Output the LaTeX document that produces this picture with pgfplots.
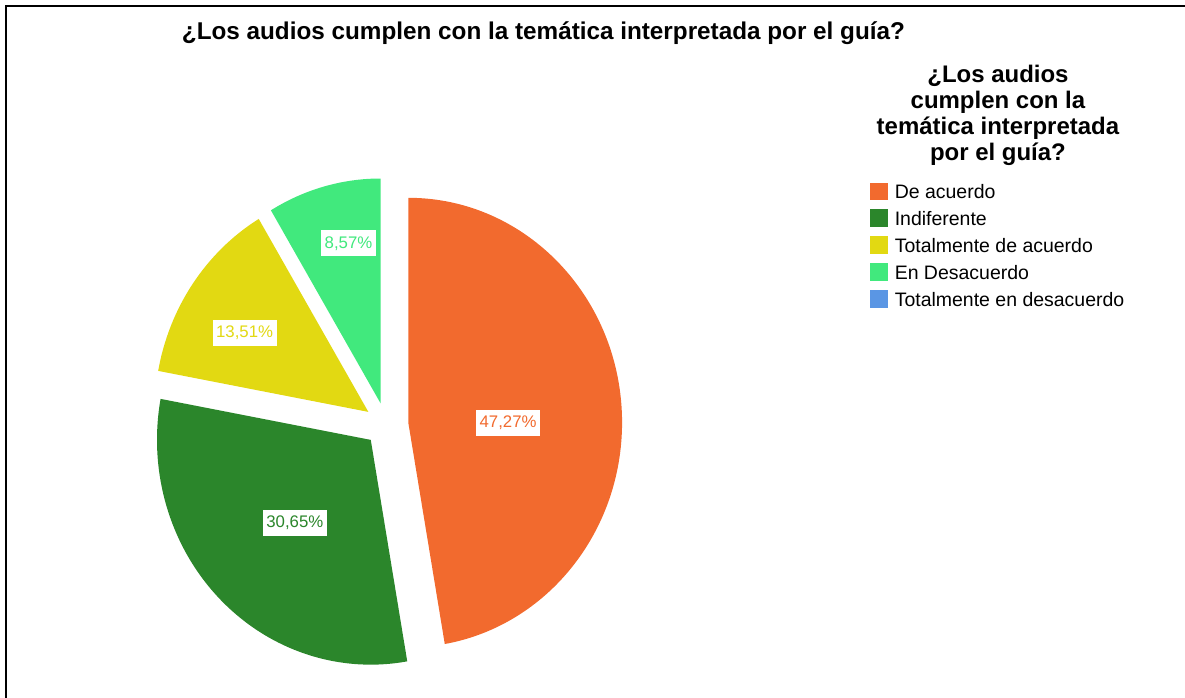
\documentclass[border=0pt]{standalone}
\usepackage{pgfplots}
\pgfplotsset{compat=1.18}
\usepackage{pgfplotstable}
\usepackage{fontspec}
\setmainfont{Liberation Sans}

\definecolor{cDeAcuerdo}{RGB}{242,106,46}
\definecolor{cIndiferente}{RGB}{43,134,43}
\definecolor{cTotAcuerdo}{RGB}{226,217,18}
\definecolor{cEnDes}{RGB}{65,233,125}
\definecolor{cTotDes}{RGB}{90,150,228}

% value (percent), colour, label direction, label distance (fraction of radius)
\pgfplotstableread{
value colour labang labfrac
47.27 cDeAcuerdo 0 0.467
30.65 cIndiferente -133.9 0.512
13.51 cTotAcuerdo 148.8 0.677
8.57 cEnDes 101.9 0.727
0.00 cTotDes 90 0.5
}\piedata

\def\pcx{386.8}%
\def\pcy{272.1}%
\def\prx{214}%
\def\pry{225}%
\def\poff{22}%
\def\pcur{90}%
\pgfplotsforeachungrouped \i in {0,...,3}{%
  \pgfplotstablegetelem{\i}{value}\of\piedata
  \pgfmathsetmacro\pval{\pgfplotsretval}%
  \pgfmathsetmacro\psA{\pcur}%
  \pgfmathsetmacro\psE{\pcur-3.6*\pval}%
  \pgfmathsetmacro\psM{(\psA+\psE)/2}%
  \pgfmathsetmacro\pax{\pcx+\poff*cos(\psM)}%
  \pgfmathsetmacro\pay{\pcy+\poff*sin(\psM)}%
  \pgfmathsetmacro\ppx{\pax+\prx*cos(\psA)}%
  \pgfmathsetmacro\ppy{\pay+\pry*sin(\psA)}%
  \pgfplotstablegetelem{\i}{labang}\of\piedata
  \let\pla\pgfplotsretval
  \pgfplotstablegetelem{\i}{labfrac}\of\piedata
  \let\plf\pgfplotsretval
  \pgfmathsetmacro\plx{\pax+\plf*\prx*cos(\pla)}%
  \pgfmathsetmacro\ply{\pay+\plf*\pry*sin(\pla)}%
  \pgfplotstablegetelem{\i}{colour}\of\piedata
  \expandafter\xdef\csname pcol\i\endcsname{\pgfplotsretval}%
  \expandafter\xdef\csname pval\i\endcsname{\pval}%
  \expandafter\xdef\csname psA\i\endcsname{\psA}%
  \expandafter\xdef\csname psE\i\endcsname{\psE}%
  \expandafter\xdef\csname pax\i\endcsname{\pax}%
  \expandafter\xdef\csname pay\i\endcsname{\pay}%
  \expandafter\xdef\csname ppx\i\endcsname{\ppx}%
  \expandafter\xdef\csname ppy\i\endcsname{\ppy}%
  \expandafter\xdef\csname plx\i\endcsname{\plx}%
  \expandafter\xdef\csname ply\i\endcsname{\ply}%
  \xdef\pcur{\psE}%
}%

\begin{document}
\begin{tikzpicture}
\begin{axis}[
  x=1pt, y=1pt,
  xmin=0, xmax=1185, ymin=0, ymax=697,
  hide axis, clip=false,
  legend image code/.code={\fill[#1, draw=none] (0pt,-6pt) rectangle (17.5pt,11.5pt);},
  legend cell align=left,
  legend style={
    at={(axis cs:871,514.5)}, anchor=north west,
    draw=none, fill=none, inner sep=0pt,
    font=\fontsize{19.5}{23}\selectfont,
    nodes={inner sep=0pt, text height=14pt, text depth=4pt},
    row sep=6.5pt, column sep=7pt,
  },
]
\path (axis cs:0,0) rectangle (axis cs:1185,697);
% frame
\draw[line width=2.5pt, line cap=rect] (axis cs:6,0) -- (axis cs:6,691) -- (axis cs:1185,691);
% slices
\pgfplotsinvokeforeach{0,...,3}{%
  \fill[fill=\csname pcol#1\endcsname]
    (axis cs:\csname pax#1\endcsname,\csname pay#1\endcsname)
    -- (axis cs:\csname ppx#1\endcsname,\csname ppy#1\endcsname)
    arc[start angle=\csname psA#1\endcsname, end angle=\csname psE#1\endcsname,
        x radius=\prx pt, y radius=\pry pt] -- cycle;
}
\pgfplotsinvokeforeach{0,...,3}{%
  \node[fill=white, text=\csname pcol#1\endcsname,
        font=\fontsize{16.8}{19}\selectfont,
        inner xsep=3.5pt, inner ysep=0pt, minimum height=26pt]
    at (axis cs:\csname plx#1\endcsname,\csname ply#1\endcsname)
    {\pgfmathprintnumber[fixed,precision=2,fixed zerofill,use comma,assume math mode=true]{\csname pval#1\endcsname}\%};
}
% titles
\node[anchor=base, inner sep=0pt, font=\bfseries\fontsize{24.3}{28}\selectfont]
  at (axis cs:544,657) {¿Los audios cumplen con la temática interpretada por el guía?};
\node[anchor=north, inner sep=0pt, align=center, font=\bfseries\fontsize{24}{25.7}\selectfont]
  at (axis cs:999,631.5) {¿Los audios\\cumplen con la\\temática interpretada\\por el guía?};
\addlegendimage{fill=cDeAcuerdo}
\addlegendentry{De acuerdo}
\addlegendimage{fill=cIndiferente}
\addlegendentry{Indiferente}
\addlegendimage{fill=cTotAcuerdo}
\addlegendentry{Totalmente de acuerdo}
\addlegendimage{fill=cEnDes}
\addlegendentry{En Desacuerdo}
\addlegendimage{fill=cTotDes}
\addlegendentry{Totalmente en desacuerdo}
\end{axis}
\end{tikzpicture}
\end{document}
